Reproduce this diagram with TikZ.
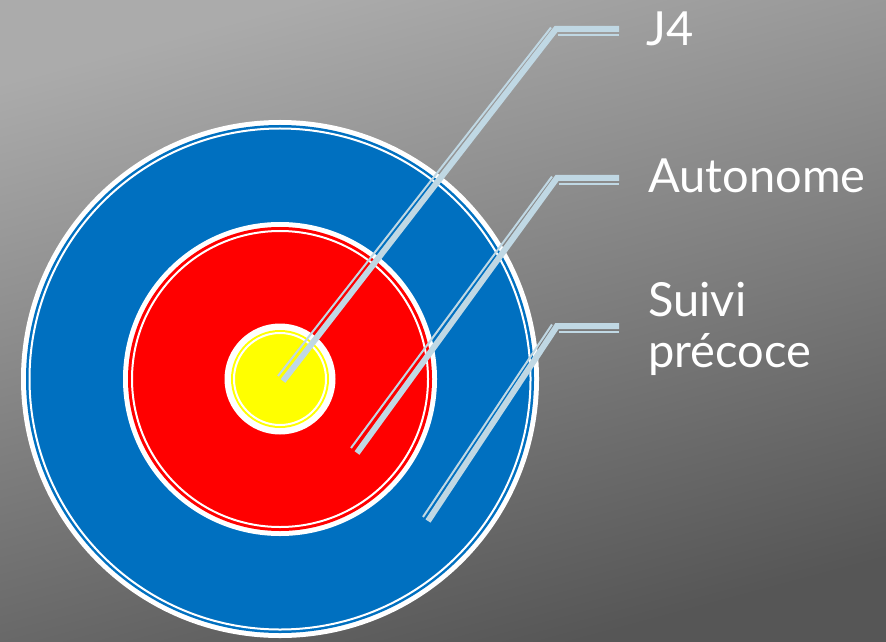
\documentclass[tikz,border=0pt]{standalone}
\usepackage{fontspec}
\setmainfont{Lato}
\usepackage{tikz}
\usetikzlibrary{positioning}
\definecolor{ringblue}{HTML}{0070C0}
\definecolor{ringred}{HTML}{FF0000}
\definecolor{ringyellow}{HTML}{FFFF00}
\definecolor{calloutblue}{RGB}{192,216,228}
\definecolor{bgtop}{HTML}{ABABAB}
\definecolor{bgmid}{HTML}{9D9D9D}
\definecolor{bgbottom}{HTML}{565656}

\begin{document}
\begin{tikzpicture}[x=0.5pt, y=-0.5pt,
    lbl/.style={text=white, inner sep=0pt, anchor=base west, align=left,
      font=\fontsize{23.5}{25.5}\selectfont},
    callout/.style={draw=calloutblue, line width=3pt, line join=miter},
    calloutthin/.style={draw=calloutblue, line width=1pt}]

        % Background
        \shade[top color=bgtop, middle color=bgmid, bottom color=bgbottom, shading angle=15]
          (0,0) rectangle (886,641);
        \useasboundingbox (0,0) rectangle (886,641);

        % Target (rings)
        \coordinate (ctr) at (280,379);
        \fill[white] (ctr) circle (259);
        \fill[ringblue] (ctr) circle (254);
        \draw[white, line width=1pt] (ctr) circle (250.5);
        \fill[white] (ctr) circle (157);
        \fill[ringred] (ctr) circle (152);
        \draw[white, line width=1pt] (ctr) circle (148);
        \fill[white] (ctr) circle (55.5);
        \fill[ringyellow] (ctr) circle (49);
        \draw[white, line width=1pt] (ctr) circle (46);

        % Callout ends
        \coordinate (j4tip) at (283,381);
        \coordinate (j4bend) at (556,29);
        \coordinate (j4end) at (619,29);
        \coordinate (autotip) at (357,453);
        \coordinate (autobend) at (557,178);
        \coordinate (autoend) at (619,178);
        \coordinate (suivitip) at (428,521);
        \coordinate (suivibend) at (557,326);
        \coordinate (suiviend) at (619,326);

        % Callouts (thick + thin)
        \draw[callout] (j4tip) -- (j4bend) -- (j4end);
        \draw[calloutthin] ([shift={(-5,-5)}]j4tip) -- ([shift={(-5,-1.5)}]j4bend);
        \draw[calloutthin] ([shift={(2,6.5)}]j4bend) -- ([shift={(0,6.5)}]j4end);

        \draw[callout] (autotip) -- (autobend) -- (autoend);
        \draw[calloutthin] ([shift={(-6,-5)}]autotip) -- ([shift={(-5,-1.5)}]autobend);
        \draw[calloutthin] ([shift={(2,6.5)}]autobend) -- ([shift={(0,6.5)}]autoend);

        \draw[callout] (suivitip) -- (suivibend) -- (suiviend);
        \draw[calloutthin] ([shift={(-5,-4)}]suivitip) -- ([shift={(-5,-1.5)}]suivibend);
        \draw[calloutthin] ([shift={(2,6)}]suivibend) -- ([shift={(0,6)}]suiviend);

        % Labels
        \node[lbl] (j4) at (646,46) {J4};
        \node[lbl] (auto) at (648,193) {Autonome};
        \node[lbl] (suivi) at (648,367) {Suivi\\précoce};

\end{tikzpicture}
\end{document}
